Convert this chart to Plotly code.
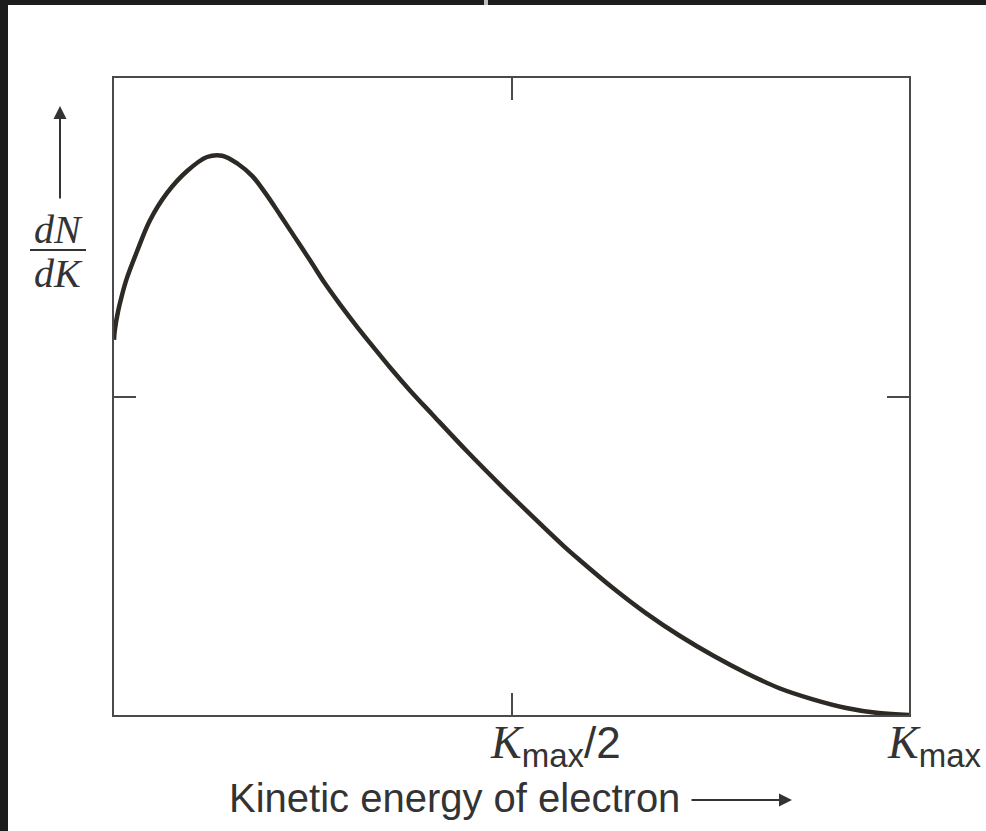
import plotly.graph_objects as go

# Beta spectrum: kinetic energy as fraction of K_max, dN/dK (relative units)
energy_frac = [0.000, 0.001, 0.005, 0.010, 0.016, 0.029, 0.045, 0.067, 0.092, 0.117,
               0.136, 0.156, 0.174, 0.190, 0.209, 0.228, 0.247, 0.265, 0.284, 0.306,
               0.326, 0.347, 0.372, 0.401, 0.444, 0.486, 0.527, 0.565, 0.586, 0.628,
               0.669, 0.712, 0.754, 0.795, 0.837, 0.878, 0.921, 0.962, 1.000]
dn_dk = [0.589, 0.604, 0.633, 0.659, 0.685, 0.728, 0.776, 0.820, 0.854, 0.876,
         0.878, 0.865, 0.846, 0.820, 0.785, 0.749, 0.713, 0.678, 0.645, 0.609,
         0.578, 0.546, 0.510, 0.471, 0.414, 0.361, 0.311, 0.266, 0.243, 0.199,
         0.160, 0.124, 0.093, 0.066, 0.042, 0.025, 0.011, 0.003, 0.000]

x_tick_vals = [0.5]
y_tick_vals = [0.5]
x_label_vals = [0.5, 1.0]
K_SPAN = '<span style="font-family:Liberation Serif;font-style:italic;font-size:46px">K</span>'
SUB = '<sub><span style="font-size:33px">max</span></sub>'
x_label_text = [K_SPAN + SUB + '/2', K_SPAN + SUB]
x_title = "Kinetic energy of electron"

INK = "#333333"
W, H = 986, 831
L, R, T, B = 114, 77, 78, 116
PW, PH = W - L - R, H - T - B


def px(xp):
    return (xp - L) / PW


def py(yp):
    return (H - B - yp) / PH


fig = go.Figure()
fig.add_trace(go.Scatter(
    x=energy_frac, y=dn_dk, mode="lines",
    line=dict(color="#2d2925", width=4.5, shape="spline", smoothing=1.0),
    hoverinfo="skip", showlegend=False,
))

axis_common = dict(
    range=[0, 1], showgrid=False, zeroline=False, showline=True,
    linewidth=2, linecolor="#4a4a4a", mirror="ticks", ticks="inside",
    ticklen=22, tickwidth=2, tickcolor="#4a4a4a", showticklabels=False,
    fixedrange=True,
)
fig.update_xaxes(tickvals=x_tick_vals, **axis_common)
fig.update_yaxes(tickvals=y_tick_vals, **axis_common)

annotations = []
for v, t in zip(x_label_vals, x_label_text):
    annotations.append(dict(
        x=v, xref="x", y=py(745), yref="paper", text=t, showarrow=False,
        xanchor="left", yanchor="middle", xshift=-24,
        font=dict(family="Liberation Sans", size=44, color=INK),
    ))
annotations.append(dict(
    x=px(227), xref="paper", y=py(798), yref="paper", text=x_title,
    showarrow=False, xanchor="left", yanchor="middle",
    font=dict(family="Liberation Sans", size=40, color=INK),
))
# arrow after the x title
annotations.append(dict(
    x=px(792), xref="paper", y=py(800), yref="paper", text="",
    showarrow=True, ax=-102, ay=0, arrowhead=2, arrowsize=1.3,
    arrowwidth=2, arrowcolor=INK,
))
# y-axis arrow
annotations.append(dict(
    x=px(60), xref="paper", y=py(106), yref="paper", text="",
    showarrow=True, ax=0, ay=94, arrowhead=2, arrowsize=1.3,
    arrowwidth=2, arrowcolor=INK,
))
# dN / dK fraction
annotations.append(dict(
    x=px(58), xref="paper", y=py(229), yref="paper", text="<i>dN</i>",
    showarrow=False, xanchor="center", yanchor="middle",
    font=dict(family="Liberation Serif", size=40, color=INK),
))
annotations.append(dict(
    x=px(58), xref="paper", y=py(273), yref="paper", text="<i>dK</i>",
    showarrow=False, xanchor="center", yanchor="middle",
    font=dict(family="Liberation Serif", size=40, color=INK),
))

shapes = [
    # fraction bar
    dict(type="line", xref="paper", yref="paper", x0=px(30), x1=px(86),
         y0=py(250), y1=py(250), line=dict(color=INK, width=2)),
    # dark screenshot edges
    dict(type="rect", xref="paper", yref="paper", x0=px(0), x1=px(8),
         y0=py(0), y1=py(H), fillcolor="#1c1c1c", line=dict(width=0), layer="above"),
    dict(type="rect", xref="paper", yref="paper", x0=px(0), x1=px(484),
         y0=py(0), y1=py(5), fillcolor="#1c1c1c", line=dict(width=0), layer="above"),
    dict(type="rect", xref="paper", yref="paper", x0=px(484), x1=px(488),
         y0=py(0), y1=py(5), fillcolor="#bdbdbd", line=dict(width=0), layer="above"),
    dict(type="rect", xref="paper", yref="paper", x0=px(488), x1=px(W),
         y0=py(0), y1=py(5), fillcolor="#1c1c1c", line=dict(width=0), layer="above"),
]

fig.update_layout(
    width=W, height=H, autosize=False,
    margin=dict(l=L, r=R, t=T, b=B, pad=0),
    paper_bgcolor="white", plot_bgcolor="white",
    annotations=annotations, shapes=shapes,
    showlegend=False,
)

fig.write_html(
    "out.html",
    config={"displayModeBar": False},
    post_script="document.body.style.margin='0';document.body.style.overflow='hidden';",
)
